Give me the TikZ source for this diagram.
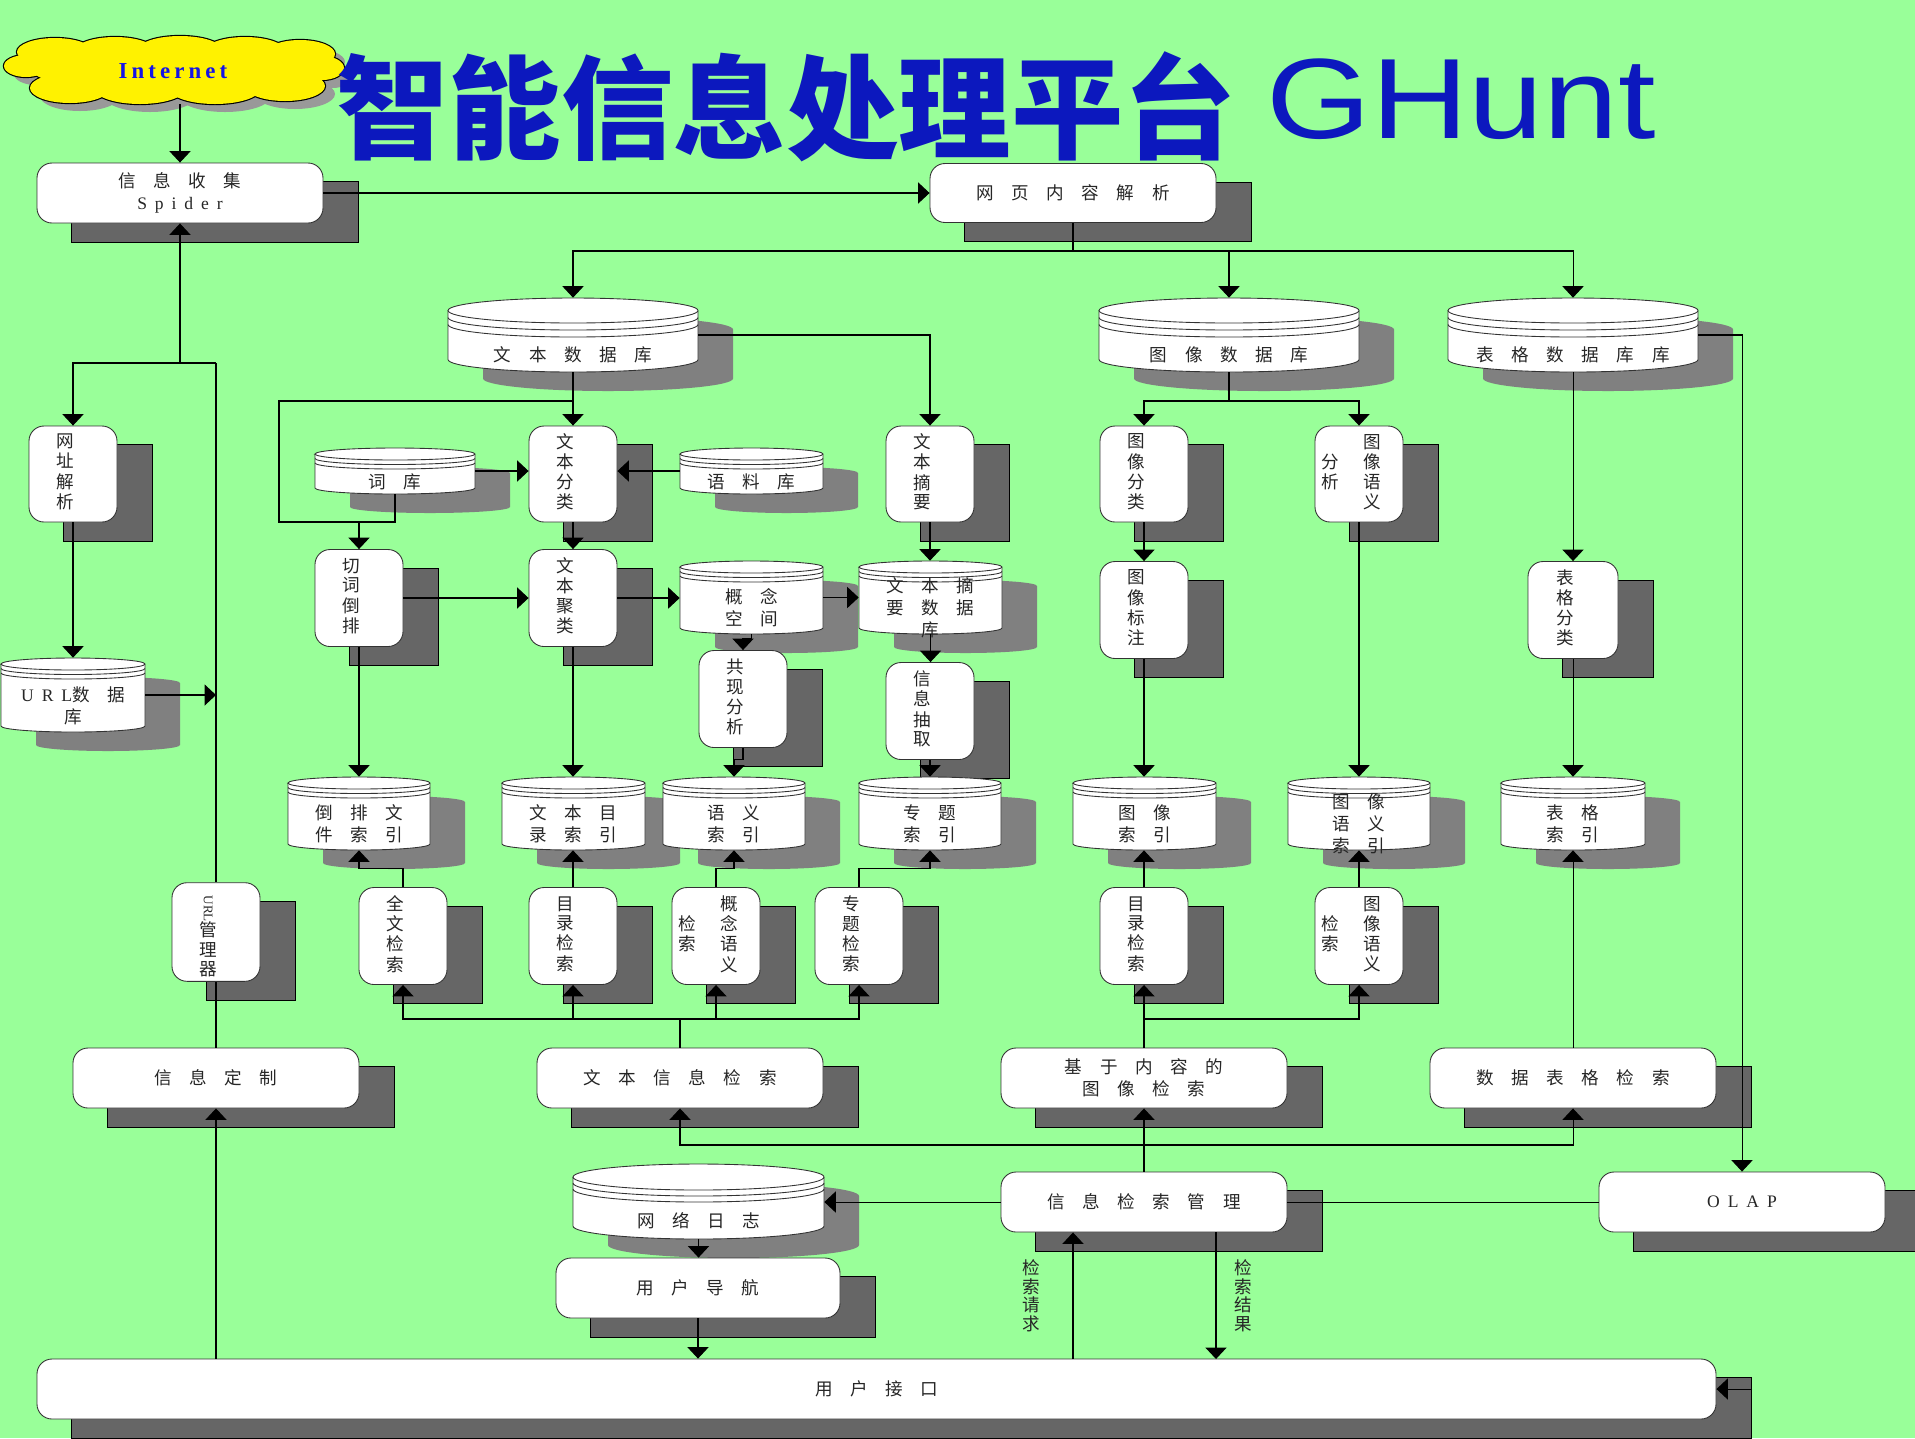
\documentclass[tikz,border=0pt]{standalone}
\usepackage{graphicx}
\usepackage{fontspec}
\setmainfont{Liberation Serif}
\newfontfamily\cjk{Noto Sans CJK SC}
\newfontfamily\headfont{Noto Sans CJK SC}
\newfontfamily\brandfont{Liberation Sans}
\newfontfamily\lsfont[LetterSpace=45]{Liberation Serif}
\newfontfamily\netfont[LetterSpace=18]{Liberation Serif}
\usepackage{tikz}
\usetikzlibrary{arrows.meta,positioning}

\definecolor{bggreen}{RGB}{153,255,153}
\definecolor{titleblue}{RGB}{12,24,190}
\definecolor{netblue}{RGB}{20,20,230}

\pgfdeclarelayer{bg}
\pgfdeclarelayer{shade}
\pgfsetlayers{bg,shade,main}

\newcommand\cnfont{\cjk\fontsize{10}{12.5}\selectfont}
\newcommand\cnvfont{\cjk\fontsize{10}{10.5}\selectfont}
% one vertical column, set a little left of centre
\newcommand\vt[1]{\begin{tabular}{@{}c@{\hspace{9pt}}}#1\end{tabular}}
% two vertical columns, read right to left
\newcommand\twocol[2]{\begin{tabular}{@{}c@{\hspace{14pt}}c@{\hspace{9pt}}}
  \begin{tabular}{@{}c@{}}#1\end{tabular} &
  \begin{tabular}{@{}c@{}}#2\end{tabular}\end{tabular}}
% cloud puffs: cx/cy/rx/ry
\newcommand\puffs{26/66/22/11, 55/52/38/14, 115/51/40/14, 180/50/42/14, 245/51/40/14,
  300/54/35/14, 322/68/22/12, 70/88/40/15, 140/89/45/15, 215/89/45/15, 285/86/40/15,
  172/70/140/22}
% database drum: name, x1, y1, x2, y2, ry, ring gap, text
\newcommand\dbase[8]{%
  \pgfmathsetmacro\dbrx{(#4-#2)/2*0.02}%
  \pgfmathsetmacro\dbry{#6*0.02}%
  \begin{pgfonlayer}{shade}
    \fill[dbshade] ({#2+35},{#3+19+#6}) -- ({#2+35},{#5+19-#6})
      arc[start angle=180,end angle=360,x radius=\dbrx cm,y radius=\dbry cm]
      -- ({#4+35},{#3+19+#6})
      arc[start angle=0,end angle=180,x radius=\dbrx cm,y radius=\dbry cm] -- cycle;
  \end{pgfonlayer}
  \draw[dbline] (#2,{#3+#6}) -- (#2,{#5-#6})
    arc[start angle=180,end angle=360,x radius=\dbrx cm,y radius=\dbry cm]
    -- (#4,{#3+#6})
    arc[start angle=0,end angle=180,x radius=\dbrx cm,y radius=\dbry cm] -- cycle;
  \foreach \k in {0,1,2}
    \draw[dbring] (#2,{#3+#6+\k*#7})
      arc[start angle=180,end angle=360,x radius=\dbrx cm,y radius=\dbry cm];
  \node[inner sep=0pt, bw={#4-#2}, bh={#5-#3}] (#1) at ({(#2+#4)/2},{(#3+#5)/2}) {};
  \node[dbtext] (#1-t) at ({(#2+#4)/2},{(#3+2*#6+2*#7+#5)/2}) {#8};
}

\begin{document}
\begin{tikzpicture}[x=0.02cm, y=-0.02cm,
    bw/.style={minimum width=(#1)*0.02cm},
    bh/.style={minimum height=(#1)*0.02cm},
    box/.style={draw=black!80, line width=0.5pt, fill=white, rounded corners=0.3cm,
                align=center, inner sep=0pt, text=black!85},
    wbox/.style={box, bw=286, bh=60, font=\cnfont},
    vbox/.style={box, bw=88, bh=96, font=\cnvfont},
    shadebox/.style={draw=black, fill=black!60, line width=0.6pt},
    dbshade/.style={fill=black!50},
    dbline/.style={draw=black!80, fill=white, line width=0.5pt},
    dbring/.style={draw=black!80, line width=0.5pt},
    dbtext/.style={align=center, inner sep=0pt, font=\cnfont, text=black!85},
    note/.style={align=center, inner sep=0pt, font=\cnvfont, text=black!85},
    ln/.style={line width=0.6pt},
    arr/.style={ln, -{Triangle[width=12pt,length=6.5pt]}}
  ]
  \begin{pgfonlayer}{bg}
    \fill[bggreen] (0,0) rectangle (1915,1438);
  \end{pgfonlayer}
  \useasboundingbox (0,0) rectangle (1915,1438);

  % cloud and title
  \foreach \cx/\cy/\rx/\ry in \puffs
    \fill[black!40] ({\cx+10},{\cy+8}) ellipse[x radius=\rx, y radius=\ry];
  \foreach \cx/\cy/\rx/\ry in \puffs
    \draw[line width=1.3pt] (\cx,\cy) ellipse[x radius=\rx, y radius=\ry];
  \foreach \cx/\cy/\rx/\ry in \puffs
    \fill[yellow] (\cx,\cy) ellipse[x radius=\rx, y radius=\ry];
  \node[inner sep=0pt, bw=338, bh=66] (net) at (173,71)
    {\netfont\bfseries\fontsize{13}{13}\selectfont\color{netblue}Internet};
  \node[anchor=base west, inner sep=0pt, text=titleblue,
        font=\headfont\bfseries\fontsize{64}{64}\selectfont] (title) at (336,150) {智能信息处理平台};
  \node[anchor=base west, inner sep=0pt, text=titleblue,
        font=\brandfont\fontsize{65}{65}\selectfont] (brand) at (1266,138) {\scalebox{1.18}[1]{GHunt}};

  % boxes
  \node[wbox] (spider) at (180,193) {信　息　收　集\\{\lsfont Spider}};
  \node[wbox, bh=59] (webparse) at (1073,193) {网　页　内　容　解　析};
  \node[vbox] (urlparse) at (73,474) {\vt{网\\址\\解\\析}};
  \node[vbox] (txtcls) at (573,474) {\vt{文\\本\\分\\类}};
  \node[vbox] (txtsum) at (930,474) {\vt{文\\本\\摘\\要}};
  \node[vbox] (imgcls) at (1144,474) {\vt{图\\像\\分\\类}};
  \node[vbox] (imgsem) at (1359,474) {\twocol{分\\析}{图\\像\\语\\义}};
  \node[vbox, bh=97] (cutword) at (359,598) {\vt{切\\词\\倒\\排}};
  \node[vbox, bh=97] (txtclu) at (573,598) {\vt{文\\本\\聚\\类}};
  \node[vbox, bh=97] (imgtag) at (1144,610) {\vt{图\\像\\标\\注}};
  \node[vbox, bh=97, bw=90] (tblcls) at (1573,610) {\vt{表\\格\\分\\类}};
  \node[vbox, bh=97] (cooc) at (743,699) {\vt{共\\现\\分\\析}};
  \node[vbox, bh=97] (extract) at (930,711) {\vt{信\\息\\抽\\取}};
  \node[vbox, bh=97] (urlmgr) at (216,932)
    {\vt{{\rmfamily\fontsize{7.5}{9}\selectfont\rotatebox{-90}{URL}}\\管\\理\\器}};
  \node[vbox, bh=97] (fulltxt) at (403,936) {\vt{全\\文\\检\\索}};
  \node[vbox, bh=97] (catret) at (573,936) {\vt{目\\录\\检\\索}};
  \node[vbox, bh=97] (conret) at (716,936) {\twocol{检\\索}{概\\念\\语\\义}};
  \node[vbox, bh=97] (topret) at (859,936) {\vt{专\\题\\检\\索}};
  \node[vbox, bh=97] (imgcat) at (1144,936) {\vt{目\\录\\检\\索}};
  \node[vbox, bh=97] (imgsemret) at (1359,936) {\twocol{检\\索}{图\\像\\语\\义}};
  \node[wbox] (custom) at (216,1078) {信　息　定　制};
  \node[wbox] (txtret) at (680,1078) {文　本　信　息　检　索};
  \node[wbox] (cbir) at (1144,1078) {基　于　内　容　的\\图　像　检　索};
  \node[wbox] (tblret) at (1573,1078) {数　据　表　格　检　索};
  \node[wbox] (retmgr) at (1144,1202) {信　息　检　索　管　理};
  \node[wbox] (olap) at (1742,1202) {{\lsfont OLAP}};
  \node[wbox, bw=284] (nav) at (698,1288) {用　户　导　航};
  \node[wbox, bw=1679] (ui) at (876.5,1389) {用　户　接　口};

  % databases
  \dbase{txtdb}{448}{298}{698}{372}{12.5}{7}{文　本　数　据　库}
  \dbase{imgdb}{1099}{298}{1359}{372}{12.5}{7}{图　像　数　据　库}
  \dbase{tbldb}{1448}{298}{1698}{372}{12.5}{7}{表　格　数　据　库　库}
  \dbase{urldb}{1}{658}{145}{732}{6}{4.5}{{\lsfont URL}数　据\\库}
  \dbase{lexdb}{315}{448}{475}{494}{6}{4.5}{词　库}
  \dbase{corpus}{680}{448}{823}{494}{6}{4.5}{语　料　库}
  \dbase{concept}{680}{561}{823}{634}{6}{4.5}{概　念\\空　间}
  \dbase{sumdb}{859}{561}{1002}{634}{6}{4.5}{文　本　摘\\要　数　据\\库}
  \dbase{invidx}{288}{777}{430}{850}{6}{4.5}{倒　排　文\\件　索　引}
  \dbase{catidx}{502}{777}{645}{850}{6}{4.5}{文　本　目\\录　索　引}
  \dbase{semidx}{663}{777}{805}{850}{6}{4.5}{语　义\\索　引}
  \dbase{topidx}{859}{777}{1001}{850}{6}{4.5}{专　题\\索　引}
  \dbase{imgidx}{1073}{777}{1216}{850}{6}{4.5}{图　像\\索　引}
  \dbase{imgsemidx}{1288}{777}{1430}{850}{6}{4.5}{图　像\\语　义\\索　引}
  \dbase{tblidx}{1501}{777}{1645}{850}{6}{4.5}{表　格\\索　引}
  \dbase{weblog}{573}{1164}{824}{1239}{13}{6}{网　络　日　志}

  % collection
  \draw[arr] (spider.north |- net.south) -- (spider.north);
  \draw[arr] (spider.east) -- (webparse.west);
  \coordinate (wj) at (1073,251);
  \draw[ln] (webparse.south) -- (wj);
  \draw[arr] (wj) -| (txtdb.north);
  \draw[arr] (wj) -| (imgdb.north);
  \draw[arr] (wj) -| (tbldb.north);
  \coordinate (uj) at (216,363);
  \draw[arr] (spider.south |- uj) -- (spider.south);
  \draw[arr] (uj) -| (urlparse.north);
  \draw[ln] (uj) -- (urlmgr.north);
  \draw[arr] (urlparse.south) -- (urlparse.south |- urldb.north);
  \draw[arr] (urldb.east) -- (urldb.east -| uj);
  \draw[ln] (urlmgr.south) -- (custom.north);
  \draw[arr] (custom.south |- ui.north) -- (custom.south);
  % text
  \coordinate (tj) at (573,401);
  \coordinate (tl) at (279,522);
  \draw[arr] (txtdb.south) -- (txtcls.north);
  \draw[arr] (tj) -| (tl) -| (cutword.north);
  \draw[ln] (lexdb.south) |- (tl -| cutword.north);
  \draw[arr] (lexdb.east) -- (lexdb.east -| txtcls.west);
  \draw[arr] (corpus.west) -- (corpus.west -| txtcls.east);
  \draw[arr] (txtdb.east) -| (txtsum.north);
  \draw[arr] (txtcls.south) -- (txtclu.north);
  \draw[arr] (cutword.east) -- (txtclu.west);
  \draw[arr] (txtclu.east) -- (txtclu.east -| concept.west);
  \draw[arr] (concept.east) -- (sumdb.west);
  \draw[arr] (txtsum.south) -- (txtsum.south |- sumdb.north);
  \draw[arr] (sumdb.south) -- (sumdb.south |- extract.north);
  \draw[arr] (concept.south) -- ++(0,4) -| (cooc.north);
  \draw[arr] (cooc.south) -- ++(0,12) -| (semidx.north);
  \draw[arr] (extract.south) -- (extract.south |- topidx.north);
  \draw[arr] (cutword.south) -- (cutword.south |- invidx.north);
  \draw[arr] (txtclu.south) -- (txtclu.south |- catidx.north);
  % image
  \coordinate (ij) at (1229,401);
  \draw[ln] (imgdb.south) -- (ij);
  \draw[arr] (ij) -| (imgcls.north);
  \draw[arr] (ij) -| (imgsem.north);
  \draw[arr] (imgcls.south) -- (imgtag.north);
  \draw[arr] (imgtag.south) -- (imgtag.south |- imgidx.north);
  \draw[arr] (imgsem.south) -- (imgsem.south |- imgsemidx.north);
  % table
  \draw[arr] (tbldb.south) -- (tbldb.south |- tblcls.north);
  \draw[arr] (tblcls.south) -- (tblcls.south |- tblidx.north);
  \draw[arr] (tbldb.east) -| (olap.north);
  % retrieval
  \draw[arr] (fulltxt.north) -- ++(0,-19) -| (invidx.south);
  \draw[arr] (catret.north) -- (catret.north |- catidx.south);
  \draw[arr] (conret.north) -- ++(0,-19) -| (semidx.south);
  \draw[arr] (topret.north) -- ++(0,-19) -| (topidx.south);
  \draw[arr] (imgcat.north) -- (imgcat.north |- imgidx.south);
  \draw[arr] (imgsemret.north) -- (imgsemret.north |- imgsemidx.south);
  \draw[arr] (tblret.north) -- (tblret.north |- tblidx.south);
  \coordinate (rj) at (680,1019);
  \draw[ln] (txtret.north) -- (rj);
  \foreach \n in {fulltxt,catret,conret,topret}
    \draw[arr] (rj) -| (\n.south);
  \coordinate (cj) at (1144,1019);
  \draw[arr] (cbir.north) -- (imgcat.south);
  \draw[arr] (cj) -| (imgsemret.south);
  \coordinate (mj) at (1144,1145);
  \draw[ln] (retmgr.north) -- (mj);
  \draw[arr] (mj) -- (cbir.south);
  \draw[arr] (mj) -| (txtret.south);
  \draw[arr] (mj) -| (tblret.south);
  \draw[arr] (retmgr.west) -- (retmgr.west -| weblog.east);
  \draw[ln] (olap.west) -- (retmgr.east);
  \draw[arr] (weblog.south) -- (weblog.south |- nav.north);
  \draw[arr] (nav.south) -- (nav.south |- ui.north);
  \coordinate (req) at (1073,1359);
  \coordinate (res) at (1216,1359);
  \draw[arr] (req) -- (req |- retmgr.south)
    node[note, midway, left=0.65cm] (reqlbl) {检\\索\\请\\求};
  \draw[arr] (res |- retmgr.south) -- (res)
    node[note, midway, right=0.35cm] (reslbl) {检\\索\\结\\果};
  \coordinate (stub) at (1752,1389);
  \draw[arr] (stub) -- (ui.east);

  % shadows
  \begin{pgfonlayer}{shade}
    \foreach \n in {spider,webparse,urlparse,txtcls,txtsum,imgcls,imgsem,cutword,
                    txtclu,imgtag,tblcls,cooc,extract,urlmgr,fulltxt,catret,conret,
                    topret,imgcat,imgsemret,custom,txtret,cbir,tblret,retmgr,olap,nav,ui}
      \draw[shadebox] ([shift={(35,19)}]\n.south west) rectangle ([shift={(35,19)}]\n.north east);
  \end{pgfonlayer}
\end{tikzpicture}
\end{document}
